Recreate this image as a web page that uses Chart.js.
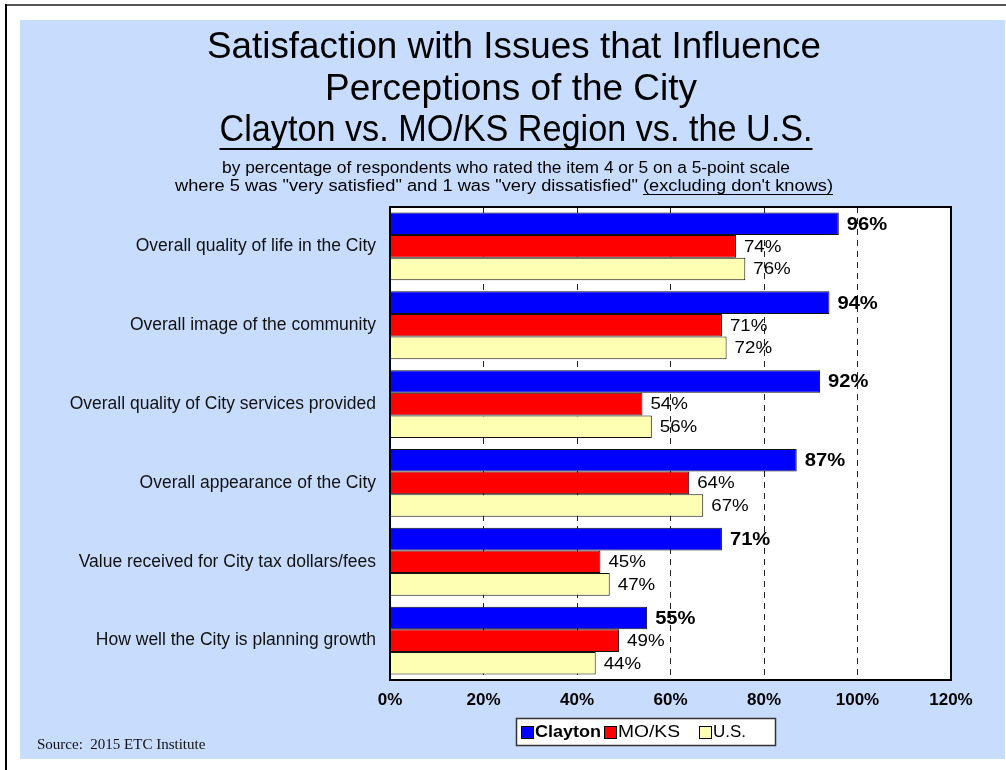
<!DOCTYPE html>
<html>
<head>
<meta charset="utf-8">
<script src="https://cdn.jsdelivr.net/npm/chart.js@4/dist/chart.umd.min.js"></script>
<style>
  html, body { margin: 0; padding: 0; background: #fff; }
  canvas { display: block; }
</style>
</head>
<body>
<canvas id="satChart" width="1006" height="770"></canvas>
<script>
const categories = [
    'Overall quality of life in the City',
    'Overall image of the community',
    'Overall quality of City services provided',
    'Overall appearance of the City',
    'Value received for City tax dollars/fees',
    'How well the City is planning growth'
];
const seriesNames = ['Clayton', 'MO/KS', 'U.S.'];
const claytonValues = [96, 94, 92, 87, 71, 55];
const mokValues = [74, 71, 54, 64, 45, 49];
const usValues = [76, 72, 56, 67, 47, 44];
const tickValues = [0, 20, 40, 60, 80, 100, 120];

const titleLines = [
    'Satisfaction with Issues that Influence',
    'Perceptions of the City',
    'Clayton vs. MO/KS Region vs. the U.S.'
];
const subLine1 = 'by percentage of respondents who rated the item 4 or 5 on a 5-point scale';
const subLine2a = 'where 5 was "very satisfied" and 1 was "very dissatisfied" ';
const subLine2b = '(excluding don\'t knows)';
const sourceText = 'Source:  2015 ETC Institute';

const SANS = '"Liberation Sans", Arial, sans-serif';

// draw text squeezed/stretched to a target width (the original face is narrower and taller)
function drawFit(ctx, text, x, y, font, width, align) {
    ctx.save();
    ctx.font = font;
    const w = ctx.measureText(text).width;
    const k = width / w;
    let left = x;
    if (align === 'center') left = x - width / 2;
    ctx.translate(left, y);
    ctx.scale(k, 1);
    ctx.textAlign = 'left';
    ctx.fillText(text, 0, 0);
    ctx.restore();
    return left;
}

// same, with a fixed stretch factor
function drawStretch(ctx, text, x, y, font, k) {
    ctx.save();
    ctx.font = font;
    ctx.translate(x, y);
    ctx.scale(k, 1);
    ctx.textAlign = 'left';
    ctx.fillText(text, 0, 0);
    ctx.restore();
}

const decorations = {
    id: 'decorations',
    beforeDraw(chart) {
        const ctx = chart.ctx;
        const a = chart.chartArea;
        ctx.save();
        ctx.fillStyle = '#ffffff';
        ctx.fillRect(0, 0, chart.width, chart.height);
        // outer frame
        ctx.fillStyle = '#555555';
        ctx.fillRect(5, 4, 1001, 2);
        ctx.fillStyle = '#000000';
        ctx.fillRect(5, 4, 2, 766);
        // blue panel
        ctx.fillStyle = '#c8ddfd';
        ctx.fillRect(20, 20, 985, 739);
        // plot background
        ctx.fillStyle = '#ffffff';
        ctx.fillRect(a.left, a.top, a.right - a.left, a.bottom - a.top);
        ctx.restore();
    },
    afterDatasetsDraw(chart) {
        const ctx = chart.ctx;
        const a = chart.chartArea;
        ctx.save();
        ctx.fillStyle = '#000';
        ctx.textBaseline = 'middle';
        chart.data.datasets.forEach(function(ds, i) {
            const meta = chart.getDatasetMeta(i);
            const font = i === 0 ? 'bold 18px ' + SANS : '16px ' + SANS;
            const k = i === 0 ? 1.12 : 1.17;
            meta.data.forEach(function(bar, j) {
                drawStretch(ctx, ds.data[j] + '%', bar.x + 8, bar.y + 1, font, k);
            });
        });
        // plot border
        ctx.strokeStyle = '#000';
        ctx.lineWidth = 2;
        ctx.strokeRect(a.left, a.top, a.right - a.left, a.bottom - a.top);
        ctx.restore();
    },
    afterDraw(chart) {
        const ctx = chart.ctx;
        ctx.save();
        ctx.fillStyle = '#000';
        ctx.textBaseline = 'alphabetic';

        // title
        const tFont = '36px ' + SANS;
        drawFit(ctx, titleLines[0], 514, 58, tFont, 614, 'center');
        drawFit(ctx, titleLines[1], 511, 100, tFont, 372, 'center');
        const l3 = drawFit(ctx, titleLines[2], 516, 141, tFont, 593, 'center');
        ctx.fillRect(l3, 148, 593, 2);

        // subtitle
        const sFont = '16px ' + SANS;
        drawFit(ctx, subLine1, 506, 173, sFont, 568, 'center');
        ctx.font = sFont;
        const wa = ctx.measureText(subLine2a).width;
        const wb = ctx.measureText(subLine2b).width;
        const w2 = 658;
        const k2 = w2 / (wa + wb);
        const left2 = 175;
        drawFit(ctx, subLine2a + subLine2b, left2, 191, sFont, w2, 'left');
        ctx.fillRect(left2 + wa * k2, 194, wb * k2, 1);

        // legend
        const lx = 516, ly = 718, lw = 259, lh = 27;
        ctx.fillStyle = '#fff';
        ctx.fillRect(lx, ly, lw, lh);
        ctx.strokeStyle = '#333';
        ctx.lineWidth = 1.5;
        ctx.strokeRect(lx + 0.5, ly + 0.5, lw, lh);
        const itemX = [521, 604, 699];
        const itemW = [66, 62, 33];
        chart.data.datasets.forEach(function(ds, i) {
            ctx.fillStyle = ds.backgroundColor;
            ctx.fillRect(itemX[i], ly + 8, 12, 12);
            ctx.strokeStyle = '#000';
            ctx.lineWidth = 1;
            ctx.strokeRect(itemX[i] + 0.5, ly + 8.5, 12, 12);
            ctx.fillStyle = '#000';
            ctx.textBaseline = 'middle';
            drawFit(ctx, ds.label, itemX[i] + 14, ly + lh / 2 + 1,
                (i === 0 ? 'bold ' : '') + '16px ' + SANS, itemW[i], 'left');
        });

        // source
        ctx.textBaseline = 'alphabetic';
        ctx.font = '15px "Liberation Serif", "Times New Roman", serif';
        ctx.fillStyle = '#111';
        ctx.fillText(sourceText, 37, 749);
        ctx.restore();
    }
};

const ctx = document.getElementById('satChart').getContext('2d');

new Chart(ctx, {
    type: 'bar',
    data: {
        labels: categories,
        datasets: [
            {
                label: seriesNames[0],
                data: claytonValues,
                backgroundColor: '#0000ff',
                borderColor: '#111',
                borderWidth: 1,
                barPercentage: 1,
                categoryPercentage: 0.86
            },
            {
                label: seriesNames[1],
                data: mokValues,
                backgroundColor: '#ff0000',
                borderColor: '#111',
                borderWidth: 1,
                barPercentage: 1,
                categoryPercentage: 0.86
            },
            {
                label: seriesNames[2],
                data: usValues,
                backgroundColor: '#ffffb3',
                borderColor: '#111',
                borderWidth: 1,
                barPercentage: 1,
                categoryPercentage: 0.86
            }
        ]
    },
    options: {
        indexAxis: 'y',
        responsive: false,
        animation: false,
        devicePixelRatio: 1,
        layout: {
            padding: { left: 0, right: 55, top: 207, bottom: 0 }
        },
        plugins: {
            legend: { display: false },
            title: { display: false },
            tooltip: { enabled: false }
        },
        scales: {
            x: {
                min: 0,
                max: 120,
                afterBuildTicks: function(scale) {
                    scale.ticks = tickValues.map(function(v) { return { value: v }; });
                },
                afterFit: function(scale) {
                    scale.height = 90;
                },
                ticks: {
                    padding: 10,
                    color: '#000',
                    font: { family: SANS, size: 17, weight: 'bold' },
                    callback: function(v) { return v + '%'; }
                },
                grid: {
                    color: '#222',
                    lineWidth: 1,
                    drawTicks: false
                },
                border: { display: false, dash: [6, 5] }
            },
            y: {
                afterFit: function(scale) {
                    scale.width = 390;
                },
                ticks: {
                    padding: 14,
                    color: '#111',
                    font: { family: SANS, size: 17.5 }
                },
                grid: { display: false, drawTicks: false },
                border: { display: false }
            }
        }
    },
    plugins: [decorations]
});
</script>
</body>
</html>
